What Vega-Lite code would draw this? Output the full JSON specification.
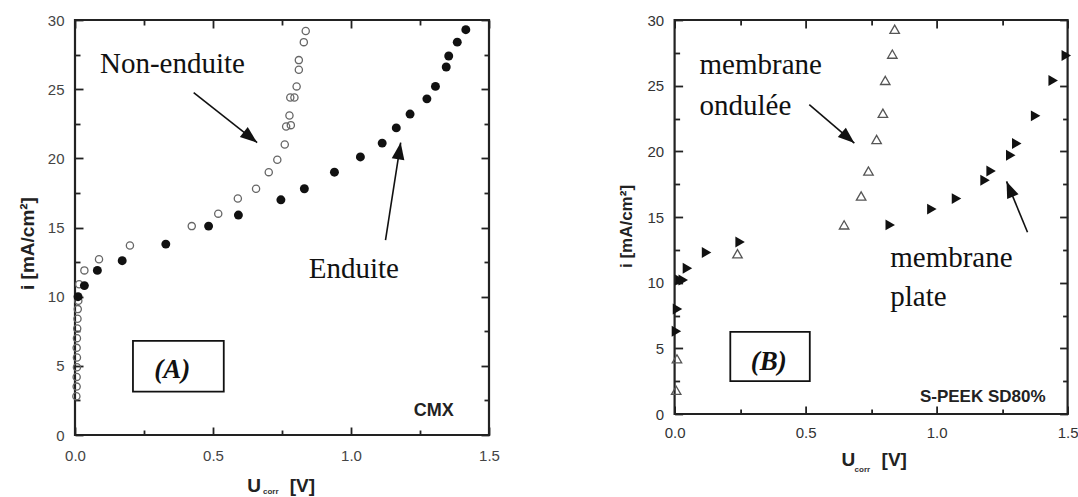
{
  "$schema": "https://vega.github.io/schema/vega-lite/v6.json",
  "padding": {"left": 16, "top": 11, "right": 0, "bottom": 0},
  "background": "white",
  "spacing": 185.6,
  "bounds": "flush",
  "config": {
    "view": {"stroke": "#222", "strokeWidth": 2.2},
    "axis": {"grid": false, "domain": false, "labelFlush": false, "labelFont": "Liberation Sans", "labelFontSize": 15, "labelColor": "#444", "tickColor": "#222", "tickWidth": 1.8}
  },
  "hconcat": [
    {
      "width": 414,
      "height": 415,
      "layer": [
        {
          "data": {"values": [
            {"u": 0.005, "i": 2.8}, {"u": 0.006, "i": 3.5}, {"u": 0.006, "i": 4.2}, {"u": 0.007, "i": 4.9}, {"u": 0.007, "i": 5.6}, {"u": 0.006, "i": 6.3}, {"u": 0.007, "i": 7.0}, {"u": 0.008, "i": 7.7}, {"u": 0.009, "i": 8.4}, {"u": 0.010, "i": 9.1}, {"u": 0.012, "i": 9.7}, {"u": 0.015, "i": 10.9}, {"u": 0.034, "i": 11.9}, {"u": 0.087, "i": 12.7}, {"u": 0.199, "i": 13.7}, {"u": 0.423, "i": 15.1}, {"u": 0.519, "i": 16.0}, {"u": 0.590, "i": 17.1}, {"u": 0.656, "i": 17.8}, {"u": 0.702, "i": 19.0}, {"u": 0.733, "i": 19.9}, {"u": 0.760, "i": 21.0}, {"u": 0.765, "i": 22.3}, {"u": 0.782, "i": 22.4}, {"u": 0.777, "i": 23.1}, {"u": 0.780, "i": 24.4}, {"u": 0.795, "i": 24.4}, {"u": 0.803, "i": 25.2}, {"u": 0.811, "i": 26.4}, {"u": 0.811, "i": 27.1}, {"u": 0.829, "i": 28.4}, {"u": 0.836, "i": 29.2}
          ]},
          "mark": {"type": "point", "shape": "circle", "filled": false, "stroke": "#666", "strokeWidth": 1.3, "size": 52, "opacity": 1},
          "encoding": {
            "x": {"field": "u", "type": "quantitative", "scale": {"domain": [0, 1.5]}, "axis": {"orient": "bottom", "values": [0, 0.5, 1, 1.5], "format": ".1f", "tickSize": -8, "labelPadding": 21, "title": null}},
            "y": {"field": "i", "type": "quantitative", "scale": {"domain": [0, 30]}, "axis": {"orient": "left", "values": [0, 5, 10, 15, 20, 25, 30], "format": "d", "tickSize": -8, "labelPadding": 19, "title": "i [mA/cm²]", "titleFont": "Liberation Sans", "titleFontWeight": "bold", "titleFontSize": 19, "titleColor": "#222", "titleX": -48, "titleY": 223, "titleBaseline": "middle", "titleAlign": "center", "titleAngle": -90}}
          }
        },
        {
          "data": {"values": [
            {"u": 0.011, "i": 10.0}, {"u": 0.034, "i": 10.8}, {"u": 0.081, "i": 11.9}, {"u": 0.171, "i": 12.6}, {"u": 0.329, "i": 13.8}, {"u": 0.484, "i": 15.1}, {"u": 0.592, "i": 15.9}, {"u": 0.746, "i": 17.0}, {"u": 0.831, "i": 17.8}, {"u": 0.940, "i": 19.0}, {"u": 1.034, "i": 20.1}, {"u": 1.113, "i": 21.1}, {"u": 1.164, "i": 22.2}, {"u": 1.214, "i": 23.2}, {"u": 1.275, "i": 24.3}, {"u": 1.306, "i": 25.2}, {"u": 1.345, "i": 26.6}, {"u": 1.354, "i": 27.4}, {"u": 1.385, "i": 28.4}, {"u": 1.416, "i": 29.3}
          ]},
          "mark": {"type": "point", "shape": "circle", "filled": true, "color": "#111", "size": 80, "opacity": 1},
          "encoding": {
            "x": {"field": "u", "type": "quantitative", "scale": {"domain": [0, 1.5]}, "axis": {"orient": "top", "values": [0, 0.5, 1, 1.5], "tickSize": -8, "labels": false, "title": null}},
            "y": {"field": "i", "type": "quantitative", "scale": {"domain": [0, 30]}, "axis": {"orient": "right", "values": [0, 5, 10, 15, 20, 25, 30], "tickSize": -8, "labels": false, "title": null}}
          }
        },
        {
          "data": {"values": [
            {"u": 0.430, "i": 24.75, "u2": 0.660, "i2": 21.14},
            {"u": 1.125, "i": 14.08, "u2": 1.180, "i2": 21.14}
          ]},
          "mark": {"type": "rule", "color": "#111", "strokeWidth": 1.6},
          "encoding": {
            "x": {"field": "u", "type": "quantitative", "scale": {"domain": [0, 1.5]}, "axis": {"orient": "bottom", "values": [0.25, 0.75, 1.25], "tickSize": -5, "labels": false, "title": null}},
            "y": {"field": "i", "type": "quantitative", "scale": {"domain": [0, 30]}, "axis": {"orient": "left", "values": [2.5, 7.5, 12.5, 17.5, 22.5, 27.5], "tickSize": -5, "labels": false, "title": null}},
            "x2": {"field": "u2"},
            "y2": {"field": "i2"}
          }
        },
        {
          "data": {"values": [{"u": 0.660, "i": 21.14}]},
          "mark": {"type": "point", "shape": "M0,0L-0.75,2L0.75,2Z", "filled": true, "color": "#111", "size": 289, "opacity": 1, "angle": 128.2},
          "encoding": {
            "x": {"field": "u", "type": "quantitative", "scale": {"domain": [0, 1.5]}, "axis": {"orient": "top", "values": [0.25, 0.75, 1.25], "tickSize": -5, "labels": false, "title": null}},
            "y": {"field": "i", "type": "quantitative", "scale": {"domain": [0, 30]}, "axis": {"orient": "right", "values": [2.5, 7.5, 12.5, 17.5, 22.5, 27.5], "tickSize": -5, "labels": false, "title": null}}
          }
        },
        {
          "data": {"values": [{"u": 1.180, "i": 21.14}]},
          "mark": {"type": "point", "shape": "M0,0L-0.75,2L0.75,2Z", "filled": true, "color": "#111", "size": 289, "opacity": 1, "angle": 8.9},
          "encoding": {
            "x": {"field": "u", "type": "quantitative", "scale": {"domain": [0, 1.5]}, "axis": null},
            "y": {"field": "i", "type": "quantitative", "scale": {"domain": [0, 30]}, "axis": null}
          }
        },
        {
          "data": {"values": [{"u": 0.210, "u2": 0.539, "i": 3.13, "i2": 6.80}]},
          "mark": {"type": "rect", "fill": "white", "fillOpacity": 0, "stroke": "#111", "strokeWidth": 1.8},
          "encoding": {
            "x": {"field": "u", "type": "quantitative", "scale": {"domain": [0, 1.5]}, "axis": null},
            "x2": {"field": "u2"},
            "y": {"field": "i", "type": "quantitative", "scale": {"domain": [0, 30]}, "axis": null},
            "y2": {"field": "i2"}
          }
        },
        {
          "data": {"values": [
            {"u": 0.0906, "i": 26.2, "t": "Non-enduite"},
            {"u": 0.847, "i": 11.37, "t": "Enduite"}
          ]},
          "mark": {"type": "text", "font": "Liberation Serif", "fontSize": 29, "align": "left", "baseline": "alphabetic", "color": "#111"},
          "encoding": {
            "x": {"field": "u", "type": "quantitative", "scale": {"domain": [0, 1.5]}, "axis": null},
            "y": {"field": "i", "type": "quantitative", "scale": {"domain": [0, 30]}, "axis": null},
            "text": {"field": "t"}
          }
        },
        {
          "data": {"values": [{"u": 0.352, "i": 4.12, "t": "(A)"}]},
          "mark": {"type": "text", "font": "Liberation Serif", "fontSize": 27, "fontStyle": "italic", "fontWeight": "bold", "align": "center", "baseline": "alphabetic", "color": "#111"},
          "encoding": {
            "x": {"field": "u", "type": "quantitative", "scale": {"domain": [0, 1.5]}, "axis": null},
            "y": {"field": "i", "type": "quantitative", "scale": {"domain": [0, 30]}, "axis": null},
            "text": {"field": "t"}
          }
        },
        {
          "data": {"values": [{"u": 1.30, "i": 1.37, "t": "CMX"}]},
          "mark": {"type": "text", "font": "Liberation Sans", "fontSize": 18, "fontWeight": "bold", "align": "center", "baseline": "alphabetic", "color": "#222"},
          "encoding": {
            "x": {"field": "u", "type": "quantitative", "scale": {"domain": [0, 1.5]}, "axis": null},
            "y": {"field": "i", "type": "quantitative", "scale": {"domain": [0, 30]}, "axis": null},
            "text": {"field": "t"}
          }
        },
        {
          "data": {"values": [
            {"u": 0.624, "i": -4.15, "t": "U"},
            {"u": 0.778, "i": -4.15, "t": "[V]"}
          ]},
          "mark": {"type": "text", "font": "Liberation Sans", "fontSize": 19, "fontWeight": "bold", "align": "left", "baseline": "alphabetic", "color": "#222"},
          "encoding": {
            "x": {"field": "u", "type": "quantitative", "scale": {"domain": [0, 1.5]}, "axis": null},
            "y": {"field": "i", "type": "quantitative", "scale": {"domain": [0, 30]}, "axis": null},
            "text": {"field": "t"}
          }
        },
        {
          "data": {"values": [{"u": 0.681, "i": -4.3, "t": "corr"}]},
          "mark": {"type": "text", "font": "Liberation Sans", "fontSize": 8, "fontWeight": "bold", "align": "left", "baseline": "alphabetic", "color": "#333"},
          "encoding": {
            "x": {"field": "u", "type": "quantitative", "scale": {"domain": [0, 1.5]}, "axis": null},
            "y": {"field": "i", "type": "quantitative", "scale": {"domain": [0, 30]}, "axis": null},
            "text": {"field": "t"}
          }
        }
      ],
      "resolve": {"axis": {"x": "independent", "y": "independent"}}
    },
    {
      "width": 393,
      "height": 394,
      "layer": [
        {
          "data": {"values": [
            {"u": 0.006, "i": 1.8}, {"u": 0.009, "i": 4.2}, {"u": 0.240, "i": 12.2}, {"u": 0.647, "i": 14.4}, {"u": 0.712, "i": 16.6}, {"u": 0.740, "i": 18.5}, {"u": 0.771, "i": 20.9}, {"u": 0.795, "i": 22.9}, {"u": 0.804, "i": 25.4}, {"u": 0.831, "i": 27.4}, {"u": 0.840, "i": 29.3}
          ]},
          "mark": {"type": "point", "shape": "triangle-up", "filled": false, "stroke": "#555", "strokeWidth": 1.3, "size": 90, "opacity": 1},
          "encoding": {
            "x": {"field": "u", "type": "quantitative", "scale": {"domain": [0, 1.5]}, "axis": {"orient": "bottom", "values": [0, 0.5, 1, 1.5], "format": ".1f", "tickSize": -8, "labelPadding": 19, "title": null, "labelColor": "#333"}},
            "y": {"field": "i", "type": "quantitative", "scale": {"domain": [0, 30]}, "axis": {"orient": "left", "values": [0, 5, 10, 15, 20, 25, 30], "format": "d", "tickSize": -8, "labelPadding": 19, "labelColor": "#333", "title": "i [mA/cm²]", "titleFont": "Liberation Sans", "titleFontWeight": "bold", "titleFontSize": 17, "titleColor": "#222", "titleX": -48, "titleY": 206, "titleBaseline": "middle", "titleAlign": "center", "titleAngle": -90}}
          }
        },
        {
          "data": {"values": [
            {"u": 0.007, "i": 6.3}, {"u": 0.011, "i": 8.0}, {"u": 0.020, "i": 10.2}, {"u": 0.033, "i": 10.2}, {"u": 0.049, "i": 11.1}, {"u": 0.122, "i": 12.3}, {"u": 0.250, "i": 13.1}, {"u": 0.823, "i": 14.4}, {"u": 0.982, "i": 15.6}, {"u": 1.076, "i": 16.4}, {"u": 1.185, "i": 17.8}, {"u": 1.208, "i": 18.5}, {"u": 1.283, "i": 19.7}, {"u": 1.306, "i": 20.6}, {"u": 1.378, "i": 22.7}, {"u": 1.445, "i": 25.4}, {"u": 1.495, "i": 27.3}
          ]},
          "mark": {"type": "point", "shape": "triangle-right", "filled": true, "color": "#111", "size": 120, "opacity": 1},
          "encoding": {
            "x": {"field": "u", "type": "quantitative", "scale": {"domain": [0, 1.5]}, "axis": {"orient": "top", "values": [0, 0.5, 1, 1.5], "tickSize": -8, "labels": false, "title": null}},
            "y": {"field": "i", "type": "quantitative", "scale": {"domain": [0, 30]}, "axis": {"orient": "right", "values": [0, 5, 10, 15, 20, 25, 30], "tickSize": -8, "labels": false, "title": null}}
          }
        },
        {
          "data": {"values": [
            {"u": 0.514, "i": 23.56, "u2": 0.686, "i2": 20.63},
            {"u": 1.347, "i": 13.84, "u2": 1.267, "i2": 17.71}
          ]},
          "mark": {"type": "rule", "color": "#111", "strokeWidth": 1.6},
          "encoding": {
            "x": {"field": "u", "type": "quantitative", "scale": {"domain": [0, 1.5]}, "axis": {"orient": "bottom", "values": [0.25, 0.75, 1.25], "tickSize": -5, "labels": false, "title": null}},
            "y": {"field": "i", "type": "quantitative", "scale": {"domain": [0, 30]}, "axis": {"orient": "left", "values": [2.5, 7.5, 12.5, 17.5, 22.5, 27.5], "tickSize": -5, "labels": false, "title": null}},
            "x2": {"field": "u2"},
            "y2": {"field": "i2"}
          }
        },
        {
          "data": {"values": [{"u": 0.686, "i": 20.63}]},
          "mark": {"type": "point", "shape": "M0,0L-0.75,2L0.75,2Z", "filled": true, "color": "#111", "size": 270, "opacity": 1, "angle": 130.5},
          "encoding": {
            "x": {"field": "u", "type": "quantitative", "scale": {"domain": [0, 1.5]}, "axis": {"orient": "top", "values": [0.25, 0.75, 1.25], "tickSize": -5, "labels": false, "title": null}},
            "y": {"field": "i", "type": "quantitative", "scale": {"domain": [0, 30]}, "axis": {"orient": "right", "values": [2.5, 7.5, 12.5, 17.5, 22.5, 27.5], "tickSize": -5, "labels": false, "title": null}}
          }
        },
        {
          "data": {"values": [{"u": 1.267, "i": 17.71}]},
          "mark": {"type": "point", "shape": "M0,0L-0.75,2L0.75,2Z", "filled": true, "color": "#111", "size": 270, "opacity": 1, "angle": -22.5},
          "encoding": {
            "x": {"field": "u", "type": "quantitative", "scale": {"domain": [0, 1.5]}, "axis": null},
            "y": {"field": "i", "type": "quantitative", "scale": {"domain": [0, 30]}, "axis": null}
          }
        },
        {
          "data": {"values": [{"u": 0.2126, "u2": 0.516, "i": 2.50, "i2": 6.26}]},
          "mark": {"type": "rect", "fill": "white", "fillOpacity": 0, "stroke": "#111", "strokeWidth": 1.8},
          "encoding": {
            "x": {"field": "u", "type": "quantitative", "scale": {"domain": [0, 1.5]}, "axis": null},
            "x2": {"field": "u2"},
            "y": {"field": "i", "type": "quantitative", "scale": {"domain": [0, 30]}, "axis": null},
            "y2": {"field": "i2"}
          }
        },
        {
          "data": {"values": [
            {"u": 0.095, "i": 25.9, "t": "membrane"},
            {"u": 0.095, "i": 22.8, "t": "ondulée"},
            {"u": 0.823, "i": 11.16, "t": "membrane"},
            {"u": 0.823, "i": 8.24, "t": "plate"}
          ]},
          "mark": {"type": "text", "font": "Liberation Serif", "fontSize": 29, "align": "left", "baseline": "alphabetic", "color": "#111"},
          "encoding": {
            "x": {"field": "u", "type": "quantitative", "scale": {"domain": [0, 1.5]}, "axis": null},
            "y": {"field": "i", "type": "quantitative", "scale": {"domain": [0, 30]}, "axis": null},
            "text": {"field": "t"}
          }
        },
        {
          "data": {"values": [{"u": 0.359, "i": 3.33, "t": "(B)"}]},
          "mark": {"type": "text", "font": "Liberation Serif", "fontSize": 27, "fontStyle": "italic", "fontWeight": "bold", "align": "center", "baseline": "alphabetic", "color": "#111"},
          "encoding": {
            "x": {"field": "u", "type": "quantitative", "scale": {"domain": [0, 1.5]}, "axis": null},
            "y": {"field": "i", "type": "quantitative", "scale": {"domain": [0, 30]}, "axis": null},
            "text": {"field": "t"}
          }
        },
        {
          "data": {"values": [{"u": 1.176, "i": 0.92, "t": "S-PEEK SD80%"}]},
          "mark": {"type": "text", "font": "Liberation Sans", "fontSize": 17, "fontWeight": "bold", "align": "center", "baseline": "alphabetic", "color": "#222"},
          "encoding": {
            "x": {"field": "u", "type": "quantitative", "scale": {"domain": [0, 1.5]}, "axis": null},
            "y": {"field": "i", "type": "quantitative", "scale": {"domain": [0, 30]}, "axis": null},
            "text": {"field": "t"}
          }
        },
        {
          "data": {"values": [
            {"u": 0.637, "i": -3.97, "t": "U"},
            {"u": 0.790, "i": -3.97, "t": "[V]"}
          ]},
          "mark": {"type": "text", "font": "Liberation Sans", "fontSize": 19, "fontWeight": "bold", "align": "left", "baseline": "alphabetic", "color": "#222"},
          "encoding": {
            "x": {"field": "u", "type": "quantitative", "scale": {"domain": [0, 1.5]}, "axis": null},
            "y": {"field": "i", "type": "quantitative", "scale": {"domain": [0, 30]}, "axis": null},
            "text": {"field": "t"}
          }
        },
        {
          "data": {"values": [{"u": 0.687, "i": -4.43, "t": "corr"}]},
          "mark": {"type": "text", "font": "Liberation Sans", "fontSize": 8, "fontWeight": "bold", "align": "left", "baseline": "alphabetic", "color": "#333"},
          "encoding": {
            "x": {"field": "u", "type": "quantitative", "scale": {"domain": [0, 1.5]}, "axis": null},
            "y": {"field": "i", "type": "quantitative", "scale": {"domain": [0, 30]}, "axis": null},
            "text": {"field": "t"}
          }
        }
      ],
      "resolve": {"axis": {"x": "independent", "y": "independent"}}
    }
  ]
}
